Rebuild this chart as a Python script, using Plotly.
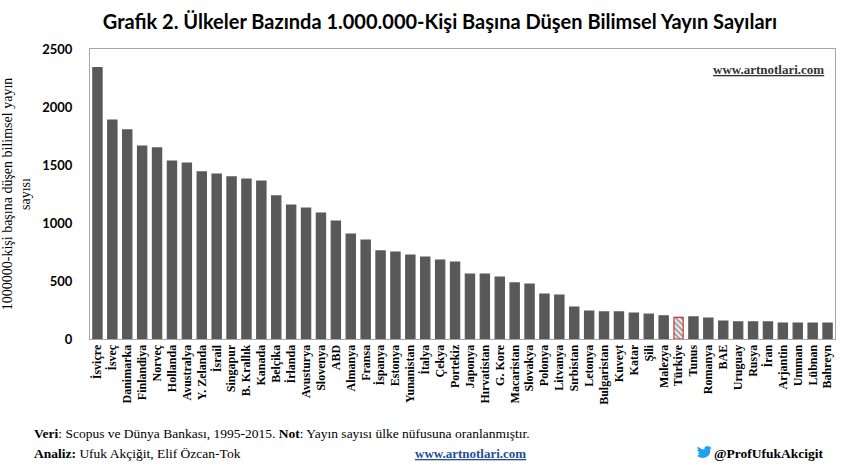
import plotly.graph_objects as go

countries = ["İsviçre", "İsveç", "Danimarka", "Finlandiya", "Norveç", "Hollanda", "Avustralya",
             "Y. Zelanda", "İsrail", "Singapur", "B. Krallık", "Kanada", "Belçika", "İrlanda",
             "Avusturya", "Slovenya", "ABD", "Almanya", "Fransa", "İspanya", "Estonya",
             "Yunanistan", "İtalya", "Çekya", "Portekiz", "Japonya", "Hırvatistan", "G. Kore",
             "Macaristan", "Slovakya", "Polonya", "Litvanya", "Sırbistan", "Letonya",
             "Bulgaristan", "Kuveyt", "Katar", "Şili", "Malezya", "Türkiye", "Tunus", "Romanya",
             "BAE", "Uruguay", "Rusya", "İran", "Arjantin", "Umman", "Lübnan", "Bahreyn"]
values = [2339, 1888, 1802, 1664, 1647, 1534, 1517, 1440, 1422, 1397, 1379, 1362, 1233, 1155,
          1129, 1086, 1017, 905, 853, 759, 750, 724, 707, 681, 664, 560, 560, 534, 483, 474,
          388, 379, 276, 241, 233, 233, 224, 214, 200, 186, 190, 181, 155, 147, 147, 147,
          138, 138, 138, 138]
highlight = "Türkiye"
y_ticks = [0, 500, 1000, 1500, 2000, 2500]

fill = ["white" if c == highlight else "#595959" for c in countries]
pshape = ["\\" if c == highlight else "" for c in countries]
lcol = ["#D0343B" if c == highlight else "#595959" for c in countries]

# plot area in pixels
L, R, T, B = 90, 15, 49, 127
W, H = 850, 466
PW, PH = W - L - R, H - T - B

def px(x):
    return (x - L) / PW

def py(y):
    return (H - B - y) / PH

fig = go.Figure(go.Bar(
    x=countries, y=values,
    marker=dict(color=fill, line=dict(color=lcol, width=1.2),
                pattern=dict(shape=pshape, fgcolor="#8E1519", bgcolor="white", size=4, solidity=0.6)),
))

fig.update_layout(
    width=W, height=H,
    margin=dict(l=L, r=R, t=T, b=B),
    paper_bgcolor="white", plot_bgcolor="white",
    bargap=0.38,
    showlegend=False,
    title=dict(text="<b>Grafik 2. Ülkeler Bazında 1.000.000-Kişi Başına Düşen Bilimsel Yayın Sayıları</b>",
               x=440/W, xanchor="center", y=1-22/H, yanchor="middle",
               font=dict(family="Lato", size=20, color="black")),
    xaxis=dict(tickangle=-90, tickfont=dict(family="Liberation Serif", size=12, color="black", weight="bold"),
               showline=True, linecolor="#A6A6A6", linewidth=1, mirror=True, ticks="",
               automargin=False, fixedrange=True),
    yaxis=dict(range=[0, 2500], tickvals=y_ticks, showgrid=False, zeroline=False,
               showline=True, linecolor="#A6A6A6", linewidth=1, mirror=True,
               ticks="outside", ticklen=14, tickcolor="rgba(0,0,0,0)",
               tickfont=dict(family="Lato", size=13, color="black", weight="bold"),
               automargin=False, fixedrange=True,
               title=dict(text="1000000-kişi başına düşen bilimsel yayın<br>sayısı",
                          font=dict(family="Liberation Serif", size=14, color="black"), standoff=9)),
)

fig.add_annotation(x=px(826), xref="paper", y=py(69), yref="paper",
                   text="<b><u>www.artnotlari.com</u></b>", showarrow=False,
                   xanchor="right", yanchor="middle",
                   font=dict(family="Liberation Serif", size=13, color="#333333"))

fig.add_annotation(x=px(32), xref="paper", y=py(433), yref="paper", xanchor="left", yanchor="middle",
                   text="<b>Veri</b>: Scopus ve Dünya Bankası, 1995-2015. <b>Not</b>: Yayın sayısı ülke nüfusuna oranlanmıştır.",
                   showarrow=False, font=dict(family="Liberation Serif", size=13.5, color="black"))
fig.add_annotation(x=px(32), xref="paper", y=py(453), yref="paper", xanchor="left", yanchor="middle",
                   text="<b>Analiz:</b> Ufuk Akçiğit, Elif Özcan-Tok",
                   showarrow=False, font=dict(family="Liberation Serif", size=13.5, color="black"))
fig.add_annotation(x=px(470), xref="paper", y=py(453), yref="paper", xanchor="center", yanchor="middle",
                   text="<b><u>www.artnotlari.com</u></b>",
                   showarrow=False, font=dict(family="Liberation Serif", size=13, color="#1F4E9A"))
fig.add_annotation(x=px(712), xref="paper", y=py(453), yref="paper", xanchor="left", yanchor="middle",
                   text="<b>@ProfUfukAkcigit</b>",
                   showarrow=False, font=dict(family="Liberation Serif", size=13.5, color="black"))
# twitter bird (approximate), pixel-sized path anchored near the handle
fig.add_shape(type="path", xref="paper", yref="paper", xsizemode="pixel", ysizemode="pixel",
              xanchor=px(704), yanchor=py(453),
              path=("M -7 -3 Q -1 -7 4 -3 Q 7 0 6 4 L 8 5 L 6.5 5.3 L 7.5 6.5 L 5.6 6 "
                    "Q 3 8 1 6 Q 0 5 0.5 3.5 Q -3.5 3.8 -6.5 6.5 Q -7 4.5 -5.5 3 Q -6.5 3 -7 2.5 "
                    "Q -6 1.3 -4.5 1 Q -6 0 -6 -1 Q -5 -1 -4 -1.2 Q -5.5 -2 -7 -3 Z"),
              fillcolor="#1DA1F2", line=dict(width=0))

fig.write_html("out.html", config={"displayModeBar": False},
               post_script="document.body.style.margin='0';document.body.style.overflow='hidden';")
